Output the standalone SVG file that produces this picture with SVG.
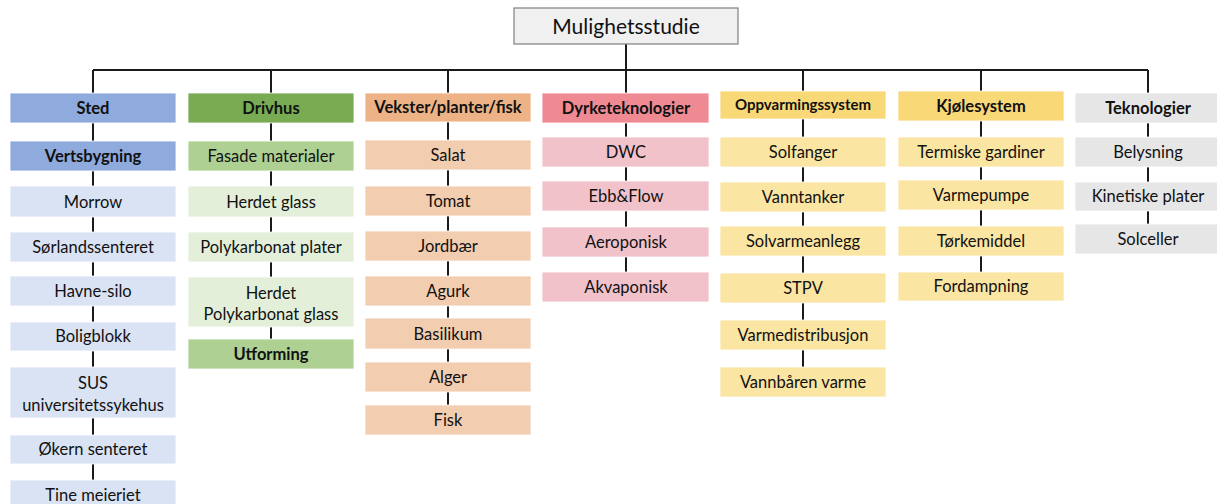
<svg xmlns="http://www.w3.org/2000/svg" width="1217" height="504" viewBox="0 0 1217 504">
<style>
text{font-family:Lato,"Open Sans","Liberation Sans",sans-serif;font-size:16.5px;fill:#111;text-anchor:middle}
.b{font-weight:bold}
.ln{stroke:#1a1a1a;stroke-width:2;fill:none}
.root{fill:#f0f0f0;stroke:#7f7f7f;stroke-width:1.2}
.r{stroke:#ffffff;stroke-width:0.8}
.blueH{fill:#8faadc}.blue{fill:#dae3f3}
.greenH{fill:#78ab52}.greenM{fill:#aed093}.green{fill:#e3efd9}
.orH{fill:#edb387}.or{fill:#f3cdb0}
.pkH{fill:#ef8a93}.pk{fill:#f2c2cb}
.yH{fill:#f9d878}.y{fill:#fbe5a2}
.gr{fill:#e6e6e6}
</style>
<rect width="1217" height="504" fill="#ffffff"/>
<g id="connectors">
<path class="ln" d="M626 44V70M93 70H1148M93 70V93M271 70V93M448 70V93M626 70V93M803 70V91M981 70V91M1148 70V93"/>
<path class="ln" d="M93 123V141M93 171V186M93 217V232M93 262V276M93 306V322M93 351V367M93 418V435M93 464V480"/>
<path class="ln" d="M271 123V141M271 171V186M271 217V232M271 262V277M271 327V339"/>
<path class="ln" d="M448 122V140M448 170V186M448 216V231M448 261V276M448 306V318M448 349V362M448 392V405"/>
<path class="ln" d="M626 123V137M626 167V181M626 211V227M626 257V272"/>
<path class="ln" d="M803 119V137M803 167V182M803 212V226M803 256V273M803 303V320M803 350V367"/>
<path class="ln" d="M981 121V137M981 167V180M981 210V226M981 256V272"/>
<path class="ln" d="M1148 123V137M1148 167V182M1148 211V224"/>
</g>
<g id="root"><rect class="root" x="514" y="8" width="224" height="36"/><text x="626" y="33.5" style="font-size:21px">Mulighetsstudie</text></g>

<g id="sted"><rect class="r blueH" x="10" y="93" width="166" height="30"/><text class="b" x="93" y="113.5">Sted</text></g>
<g id="vertsbygning"><rect class="r blueH" x="10" y="141" width="166" height="30"/><text class="b" x="93" y="161.5">Vertsbygning</text></g>
<g id="morrow"><rect class="r blue" x="10" y="186" width="166" height="31"/><text x="93" y="207.5">Morrow</text></g>
<g id="sorlandssenteret"><rect class="r blue" x="10" y="232" width="166" height="30"/><text x="93" y="252.5">Sørlandssenteret</text></g>
<g id="havne-silo"><rect class="r blue" x="10" y="276" width="166" height="30"/><text x="93" y="296.5">Havne-silo</text></g>
<g id="boligblokk"><rect class="r blue" x="10" y="322" width="166" height="29"/><text x="93" y="342">Boligblokk</text></g>
<g id="sus"><rect class="r blue" x="10" y="367" width="166" height="51"/><text x="93" y="388.5">SUS</text><text x="93" y="410.5">universitetssykehus</text></g>
<g id="okern"><rect class="r blue" x="10" y="435" width="166" height="29"/><text x="93" y="455">Økern senteret</text></g>
<g id="tine"><rect class="r blue" x="10" y="480" width="166" height="30"/><text x="93" y="500.5">Tine meieriet</text></g>

<g id="drivhus"><rect class="r greenH" x="188" y="93" width="166" height="30"/><text class="b" x="271" y="113.5">Drivhus</text></g>
<g id="fasade"><rect class="r greenM" x="188" y="141" width="166" height="30"/><text x="271" y="161.5">Fasade materialer</text></g>
<g id="herdet-glass"><rect class="r green" x="188" y="186" width="166" height="31"/><text x="271" y="207.5">Herdet glass</text></g>
<g id="polykarbonat-plater"><rect class="r green" x="188" y="232" width="166" height="30"/><text x="271" y="252.5">Polykarbonat plater</text></g>
<g id="herdet-polykarbonat"><rect class="r green" x="188" y="277" width="166" height="50"/><text x="271" y="298.5">Herdet</text><text x="271" y="319.5">Polykarbonat glass</text></g>
<g id="utforming"><rect class="r greenM" x="188" y="339" width="166" height="30"/><text class="b" x="271" y="359.5">Utforming</text></g>

<g id="vekster"><rect class="r orH" x="365" y="93" width="166" height="29"/><text class="b" x="448" y="112.5">Vekster/planter/fisk</text></g>
<g id="salat"><rect class="r or" x="365" y="140" width="166" height="30"/><text x="448" y="160.5">Salat</text></g>
<g id="tomat"><rect class="r or" x="365" y="186" width="166" height="30"/><text x="448" y="206.5">Tomat</text></g>
<g id="jordbaer"><rect class="r or" x="365" y="231" width="166" height="30"/><text x="448" y="251.5">Jordbær</text></g>
<g id="agurk"><rect class="r or" x="365" y="276" width="166" height="30"/><text x="448" y="296.5">Agurk</text></g>
<g id="basilikum"><rect class="r or" x="365" y="318" width="166" height="31"/><text x="448" y="339.5">Basilikum</text></g>
<g id="alger"><rect class="r or" x="365" y="362" width="166" height="30"/><text x="448" y="382.5">Alger</text></g>
<g id="fisk"><rect class="r or" x="365" y="405" width="166" height="30"/><text x="448" y="425.5">Fisk</text></g>

<g id="dyrketeknologier"><rect class="r pkH" x="542" y="93" width="167" height="30"/><text class="b" x="626" y="113.5">Dyrketeknologier</text></g>
<g id="dwc"><rect class="r pk" x="542" y="137" width="167" height="30"/><text x="626" y="157.5">DWC</text></g>
<g id="ebbflow"><rect class="r pk" x="542" y="181" width="167" height="30"/><text x="626" y="201.5">Ebb&amp;Flow</text></g>
<g id="aeroponisk"><rect class="r pk" x="542" y="227" width="167" height="30"/><text x="626" y="247.5">Aeroponisk</text></g>
<g id="akvaponisk"><rect class="r pk" x="542" y="272" width="167" height="30"/><text x="626" y="292.5">Akvaponisk</text></g>

<g id="oppvarmingssystem"><rect class="r yH" x="720" y="91" width="166" height="28"/><text class="b" x="803" y="110" style="font-size:15px">Oppvarmingssystem</text></g>
<g id="solfanger"><rect class="r y" x="720" y="137" width="166" height="30"/><text x="803" y="157.5">Solfanger</text></g>
<g id="vanntanker"><rect class="r y" x="720" y="182" width="166" height="30"/><text x="803" y="202.5">Vanntanker</text></g>
<g id="solvarmeanlegg"><rect class="r y" x="720" y="226" width="166" height="30"/><text x="803" y="246.5">Solvarmeanlegg</text></g>
<g id="stpv"><rect class="r y" x="720" y="273" width="166" height="30"/><text x="803" y="293.5">STPV</text></g>
<g id="varmedistribusjon"><rect class="r y" x="720" y="320" width="166" height="30"/><text x="803" y="340.5">Varmedistribusjon</text></g>
<g id="vannbaaren"><rect class="r y" x="720" y="367" width="166" height="30"/><text x="803" y="387.5">Vannbåren varme</text></g>

<g id="kjolesystem"><rect class="r yH" x="898" y="91" width="166" height="30"/><text class="b" x="981" y="111.5">Kjølesystem</text></g>
<g id="termiske"><rect class="r y" x="898" y="137" width="166" height="30"/><text x="981" y="157.5">Termiske gardiner</text></g>
<g id="varmepumpe"><rect class="r y" x="898" y="180" width="166" height="30"/><text x="981" y="200.5">Varmepumpe</text></g>
<g id="torkemiddel"><rect class="r y" x="898" y="226" width="166" height="30"/><text x="981" y="246.5">Tørkemiddel</text></g>
<g id="fordampning"><rect class="r y" x="898" y="272" width="166" height="29"/><text x="981" y="292">Fordampning</text></g>

<g id="teknologier"><rect class="r gr" x="1075" y="93" width="146" height="30"/><text class="b" x="1148" y="113.5">Teknologier</text></g>
<g id="belysning"><rect class="r gr" x="1075" y="137" width="146" height="30"/><text x="1148" y="157.5">Belysning</text></g>
<g id="kinetiske"><rect class="r gr" x="1075" y="182" width="146" height="29"/><text x="1148" y="202">Kinetiske plater</text></g>
<g id="solceller"><rect class="r gr" x="1075" y="224" width="146" height="30"/><text x="1148" y="244.5">Solceller</text></g>
</svg>
